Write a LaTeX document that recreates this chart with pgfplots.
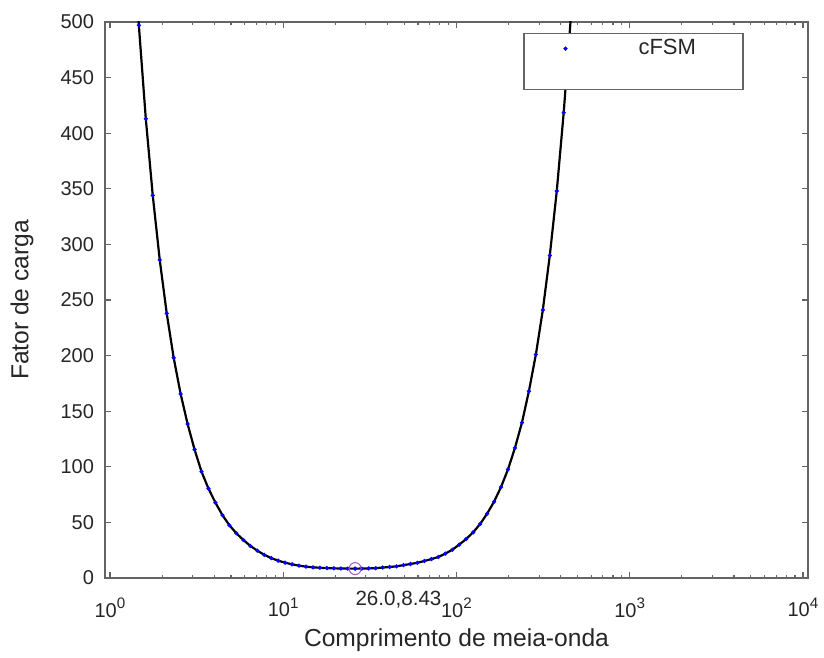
\documentclass[border=0pt]{standalone}
\usepackage{fontspec}
\setmainfont{Liberation Sans}
\usepackage{pgfplots}
\usepackage{pgfplotstable}
\pgfplotsset{compat=1.18}
\definecolor{axiscol}{RGB}{100,100,100}
\definecolor{txtcol}{RGB}{38,38,38}
\definecolor{tipcol}{RGB}{165,90,180}
\newcommand{\pw}[1]{10\raisebox{0.42em}{\fontsize{7.6}{8}\selectfont #1}}

% half-wavelength vs load factor
\pgfplotstableread{
x y
1.338 597
1.468 497
1.610 413
1.766 344
1.938 286
2.126 238
2.332 198
2.558 165.5
2.806 138.5
3.078 115.5
3.377 95.6
3.705 80.3
4.064 67.7
4.459 56.5
4.891 47.4
5.366 40.2
5.886 34.2
6.457 28.9
7.084 24.6
7.771 20.9
8.525 17.9
9.348 15.6
10.25 13.8
11.25 12.3
12.34 11.1
13.54 10.2
14.85 9.6
16.29 9.2
17.87 8.9
19.60 8.7
21.50 8.55
23.59 8.46
26.0 8.43
28.39 8.47
31.14 8.6
34.16 8.85
37.48 9.4
41.11 9.9
45.10 10.5
49.48 11.6
54.28 12.6
59.54 13.7
65.32 15.3
71.66 17.0
78.61 18.9
86.24 21.9
94.6 25.4
103.7 30.0
113.8 35.1
124.9 41.1
137.0 48.6
150.2 57.8
164.8 68.6
180.8 81.8
198.4 97.7
217.6 117
238.7 139.7
261.9 168
287.3 201
315.1 241
345.7 290
379.3 348
415.9 418.5
456.2 502
500.4 602
}\cfsm

\begin{document}
\begin{tikzpicture}
\useasboundingbox (-52.5pt,-40pt) rectangle (359.5pt,289pt);
\begin{axis}[
  at={(0,0)}, anchor=south west,
  scale only axis, width=351.5pt, height=278pt,
  xmode=log, xmin=0.936, xmax=10690,
  ymin=0, ymax=500,
  ytick={0,50,...,500},
  xtick={1,10,100,1000,10000},
  xticklabels={\pw{0},\pw{1},\pw{2},\pw{3},\pw{4}},
  minor xtick={2,3,...,9,20,30,...,90,200,300,...,900,2000,3000,...,9000},
  /pgf/number format/assume math mode=true,
  clip mode=individual,
  axis line style={axiscol, line width=0.6pt},
  tick style={axiscol, line width=0.6pt},
  major tick length=3pt, minor tick length=1.6pt,
  tick align=inside,
  tick label style={font=\fontsize{10}{12}\selectfont, text=txtcol},
  xticklabel style={yshift=-6.5pt},
  yticklabel style={xshift=-2pt},
  xlabel={Comprimento de meia-onda},
  ylabel={Fator de carga},
  label style={font=\fontsize{12.3}{14}\selectfont, text=txtcol},
  xlabel style={at={(axis description cs:0.5,-0.1115)}, anchor=center},
  ylabel style={at={(axis description cs:-0.118,0.5)}, anchor=center},
  legend style={draw=none, fill=none, at={(axis description cs:0.6515,0.952)},
    anchor=west, inner sep=0pt, column sep=0pt, nodes={inner sep=0pt},
    font=\fontsize{11}{13}\selectfont, text=txtcol},
]
  \addplot[black, line width=1.1pt, forget plot] table {\cfsm};
  \addplot[only marks, mark=*, mark size=0.85pt, blue,
    restrict y to domain=0:500,
    legend image code/.code={\fill[blue] (0pt,0pt) circle (0.85pt);
      \path[draw=none, fill=none] (0pt,-0.5pt) rectangle (36.5pt,0.5pt);}] table {\cfsm};
  \addlegendentry{cFSM}
  \addplot[only marks, mark=o, mark size=3pt, tipcol, line width=0.5pt,
    forget plot] coordinates {(26.0,8.43)};
  \draw[axiscol, line width=0.6pt, fill=white]
    (axis description cs:0.596,0.980) rectangle (axis description cs:0.9075,0.879);
  \node[anchor=north west, inner sep=0pt, yshift=-11pt, text=txtcol,
    font=\fontsize{10.3}{12}\selectfont] at (axis cs:26.0,8.43) {26.0,8.43};
\end{axis}
\end{tikzpicture}
\end{document}
